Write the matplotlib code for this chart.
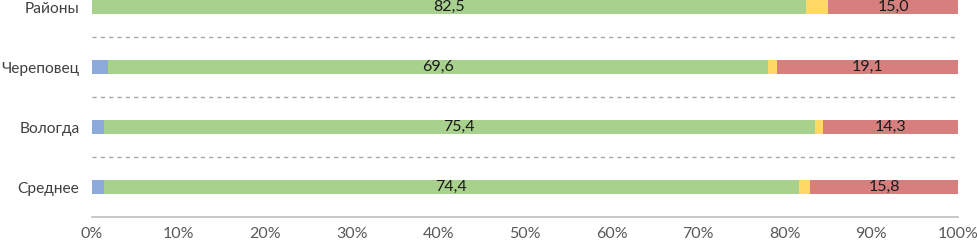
import numpy as np
import matplotlib.pyplot as plt

# Categories (bottom to top) and series values
categories = ["Среднее", "Вологда", "Череповец", "Районы"]
blue = np.array([1.25, 1.25, 1.7, 0.0])
green = np.array([74.4, 75.4, 69.6, 82.5])
yellow = np.array([1.2, 0.9, 1.0, 2.5])
red = np.array([15.8, 14.3, 19.1, 15.0])
green_labels = ["74,4", "75,4", "69,6", "82,5"]
red_labels = ["15,8", "14,3", "19,1", "15,0"]
xticks = np.arange(0, 101, 10)
xtick_labels = [f"{v}%" for v in xticks]

plt.rcParams['font.family'] = ['Lato', 'DejaVu Sans']

# 100% stacked: each row normalised to its total
total = blue + green + yellow + red
series = [blue, green, yellow, red]
colors = ["#8eaadb", "#a9d18e", "#ffd966", "#d77f7f"]

fig = plt.figure(figsize=(9.77, 2.45), dpi=100)
ax = fig.add_axes([92 / 977, 1 - 217 / 245, 866 / 977, 217 / 245])

y = np.arange(len(categories))
left = np.zeros(len(categories))
for vals, c in zip(series, colors):
    w = vals / total * 100
    ax.barh(y, w, left=left, height=0.22, color=c, edgecolor='none')
    if vals is green:
        for i in range(len(y)):
            ax.text(left[i] + w[i] / 2, y[i], green_labels[i], ha='center', va='center',
                    fontsize=11.5, color='#1a1a1a')
    if vals is red:
        for i in range(len(y)):
            ax.text(left[i] + w[i] / 2, y[i], red_labels[i], ha='center', va='center',
                    fontsize=11.5, color='#1a1a1a')
    left += w

# dashed separators between categories
for yy in [0.5, 1.5, 2.5]:
    ax.axhline(yy, color='#a6a6a6', lw=1, ls=(0, (3, 3)))

ax.set_xlim(0, 100)
ax.set_ylim(-0.5, 3.117)
ax.set_xticks(xticks)
ax.set_xticklabels(xtick_labels, fontsize=11.5, color='#595959')
ax.set_yticks(y)
ax.set_yticklabels(categories, fontsize=11.2, color='#404040')
ax.tick_params(length=0, axis='x', pad=7)
ax.tick_params(length=0, axis='y', pad=9)
for s in ['top', 'right', 'left']:
    ax.spines[s].set_visible(False)
ax.spines['bottom'].set_color('#bfbfbf')
ax.spines['bottom'].set_linewidth(1.2)

fig.savefig('out.png', dpi=100)
